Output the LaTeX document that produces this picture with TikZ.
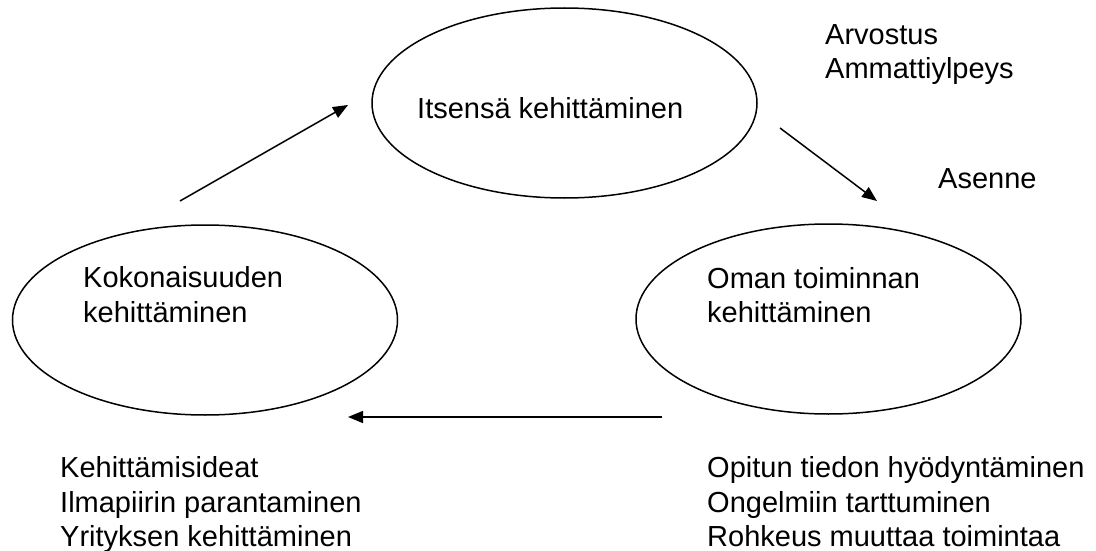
\documentclass[tikz,border=0pt]{standalone}
\usepackage{fontspec}
\setmainfont{Liberation Sans}
\usetikzlibrary{shapes.geometric,arrows.meta}
\begin{document}
\begin{tikzpicture}[x=1pt,y=-1pt,
  bubble/.style={draw, ellipse, line width=1.5pt, minimum width=385pt, minimum height=190pt, inner sep=0pt},
  txt/.style={anchor=base west, inner sep=0pt, font=\fontsize{29pt}{34pt}\selectfont},
  conn/.style={line width=1.5pt, -{Triangle[length=15pt,width=12pt]}}]
\useasboundingbox (0,0) rectangle (1096,551);
% ellipses
\node[bubble] (top) at (564.5,103) {};
\node[bubble] (left) at (205,320) {};
\node[bubble] (right) at (828.5,319) {};
% texts inside ellipses
\node[txt] (ttop) at (417,118) {Itsensä kehittäminen};
\node[txt] (tleft1) at (83,287) {Kokonaisuuden};
\node[txt] (tleft2) at (83,322) {kehittäminen};
\node[txt] (tright1) at (707,288) {Oman toiminnan};
\node[txt] (tright2) at (707,322) {kehittäminen};
% side texts
\node[txt] (arv) at (825,45) {Arvostus};
\node[txt] (amm) at (825,79) {Ammattiylpeys};
\node[txt] (ase) at (938,188) {Asenne};
\node[txt] (bl1) at (60,477) {Kehittämisideat};
\node[txt] (bl2) at (60,512) {Ilmapiirin parantaminen};
\node[txt] (bl3) at (60,546) {Yrityksen kehittäminen};
\node[txt] (br1) at (707,477) {Opitun tiedon hyödyntäminen};
\node[txt] (br2) at (707,512) {Ongelmiin tarttuminen};
\node[txt] (br3) at (707,546) {Rohkeus muuttaa toimintaa};
% connector ends
\coordinate (a1s) at (180,201);
\coordinate (a1e) at (348,105);
\coordinate (a2s) at (780,128);
\coordinate (a2e) at (877,201);
\coordinate (a3s) at (662,417);
\coordinate (a3e) at (348,417);
\draw[conn] (a1s) -- (a1e);
\draw[conn] (a2s) -- (a2e);
\draw[conn] (a3s) -- (a3e);
\end{tikzpicture}
\end{document}
